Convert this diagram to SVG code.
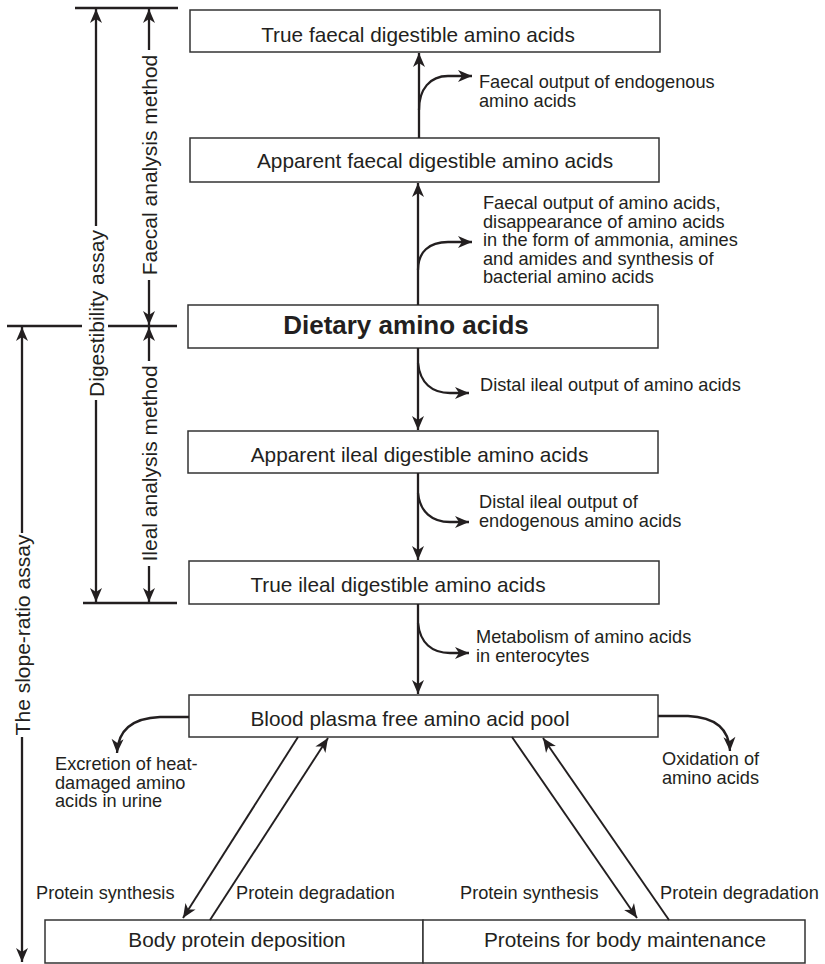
<svg xmlns="http://www.w3.org/2000/svg" width="825" height="964" viewBox="0 0 825 964">
<defs>
<marker id="ah" viewBox="-15 -7 16 14" refX="0" refY="0" markerWidth="16" markerHeight="14" markerUnits="userSpaceOnUse" orient="auto">
<path d="M0,0 L-14,-6 L-10,0 L-14,6 Z" fill="#231f20"/>
</marker>
<style>
text{font-family:"Liberation Sans",Arial,Helvetica,sans-serif;fill:#231f20}
.box{fill:#fff;stroke:#333;stroke-width:1.5}
.bt{font-size:20.8px;text-anchor:middle}
.lbl{font-size:18.2px}
.dim{font-size:21px;text-anchor:middle}
.ln{fill:none;stroke:#231f20;stroke-width:2.3}
.ar{fill:none;stroke:#231f20;stroke-width:2.3;marker-end:url(#ah)}
.dg{fill:none;stroke:#231f20;stroke-width:1.9;marker-end:url(#ah)}
</style>
</defs>
<rect width="825" height="964" fill="#fff"/>

<g id="n-true-faecal"><rect class="box" x="190" y="10" width="470" height="42"/><text class="bt" x="418" y="41.5">True faecal digestible amino acids</text></g>
<g id="n-apparent-faecal"><rect class="box" x="190" y="138" width="469" height="44"/><text class="bt" x="435" y="168">Apparent faecal digestible amino acids</text></g>
<g id="n-dietary"><rect class="box" x="188" y="305" width="470" height="43"/><text x="406" y="334" style="font-size:26px;font-weight:bold;text-anchor:middle">Dietary amino acids</text></g>
<g id="n-apparent-ileal"><rect class="box" x="188" y="431" width="470" height="42"/><text class="bt" x="419.5" y="462">Apparent ileal digestible amino acids</text></g>
<g id="n-true-ileal"><rect class="box" x="189" y="561" width="470" height="43"/><text class="bt" x="398" y="592">True ileal digestible amino acids</text></g>
<g id="n-blood"><rect class="box" x="189" y="695" width="469" height="42"/><text class="bt" x="410" y="726">Blood plasma free amino acid pool</text></g>
<g id="n-body-protein"><rect class="box" x="45" y="920" width="378" height="43"/><text class="bt" x="237" y="947">Body protein deposition</text></g>
<g id="n-maintenance"><rect class="box" x="423" y="920" width="382" height="43"/><text class="bt" x="625" y="947">Proteins for body maintenance</text></g>

<g id="connectors">
<line class="ar" x1="419" y1="138" x2="419" y2="53"/>
<line class="ar" x1="418" y1="305" x2="418" y2="183"/>
<line class="ar" x1="418" y1="348" x2="418" y2="430"/>
<line class="ar" x1="418" y1="473" x2="418" y2="560"/>
<line class="ar" x1="418" y1="604" x2="418" y2="694"/>
<path class="ar" d="M419,110 C419,89 430,76 448,76 L472,76"/>
<path class="ar" d="M418,270 C418,252 429,242 448,242 L472,242"/>
<path class="ar" d="M418,363 C420,383 432,393 450,393 L469,393"/>
<path class="ar" d="M418,493 C420,512 432,522 450,522 L469,522"/>
<path class="ar" d="M418,623 C420,643 432,653 450,653 L469,653"/>
<path class="ar" d="M189,717 L160,717 C135,718 118,728 117,753"/>
<path class="ar" d="M658,716 L688,716 C712,717 729,726 730,751"/>
<line class="dg" x1="298" y1="737" x2="183" y2="918"/>
<line class="dg" x1="210" y1="920" x2="328" y2="738"/>
<line class="dg" x1="512" y1="737" x2="637" y2="918"/>
<line class="dg" x1="669" y1="920" x2="543" y2="738"/>
</g>

<g id="labels">
<text class="lbl" x="479" y="88">Faecal output of endogenous</text>
<text class="lbl" x="479" y="106.5">amino acids</text>
<text class="lbl" x="483" y="209">Faecal output of amino acids,</text>
<text class="lbl" x="483" y="227.5">disappearance of amino acids</text>
<text class="lbl" x="483" y="246">in the form of ammonia, amines</text>
<text class="lbl" x="483" y="264.5">and amides and synthesis of</text>
<text class="lbl" x="483" y="283">bacterial amino acids</text>
<text class="lbl" x="480" y="391">Distal ileal output of amino acids</text>
<text class="lbl" x="479" y="508">Distal ileal output of</text>
<text class="lbl" x="479" y="526.5">endogenous amino acids</text>
<text class="lbl" x="476" y="643">Metabolism of amino acids</text>
<text class="lbl" x="476" y="661.5">in enterocytes</text>
<text class="lbl" x="55" y="770">Excretion of heat-</text>
<text class="lbl" x="55" y="788.5">damaged amino</text>
<text class="lbl" x="55" y="807">acids in urine</text>
<text class="lbl" x="662" y="765">Oxidation of</text>
<text class="lbl" x="662" y="783.5">amino acids</text>
<text class="lbl" x="36" y="899">Protein synthesis</text>
<text class="lbl" x="236" y="899">Protein degradation</text>
<text class="lbl" x="460" y="899">Protein synthesis</text>
<text class="lbl" x="660" y="899">Protein degradation</text>
</g>

<g id="dimensions">
<line class="ln" x1="75" y1="8" x2="178" y2="8"/>
<line class="ln" x1="7" y1="326" x2="82" y2="326"/>
<line class="ln" x1="108" y1="326" x2="177" y2="326"/>
<line class="ln" x1="83" y1="603" x2="177" y2="603"/>
<line class="ar" x1="149" y1="50" x2="149" y2="9"/>
<line class="ar" x1="149" y1="280" x2="149" y2="325"/>
<text class="dim" transform="translate(156.5,165) rotate(-90)">Faecal analysis method</text>
<line class="ar" x1="149" y1="361" x2="149" y2="327"/>
<line class="ar" x1="149" y1="566" x2="149" y2="602"/>
<text class="dim" transform="translate(156.5,463.5) rotate(-90)">Ileal analysis method</text>
<line class="ar" x1="96" y1="226" x2="96" y2="9"/>
<line class="ar" x1="96" y1="400" x2="96" y2="602"/>
<text class="dim" transform="translate(103.5,313.5) rotate(-90)">Digestibility assay</text>
<line class="ar" x1="22" y1="533" x2="22" y2="327"/>
<line class="ar" x1="22" y1="737" x2="22" y2="962"/>
<text class="dim" transform="translate(29.5,635) rotate(-90)">The slope-ratio assay</text>
</g>
</svg>
